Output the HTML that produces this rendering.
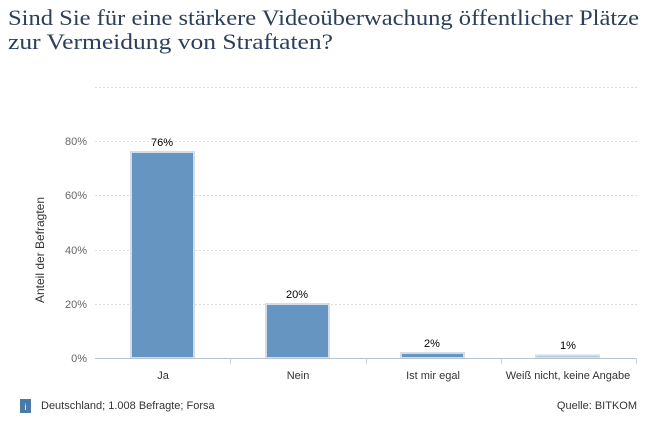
<!DOCTYPE html>
<html><head><meta charset="utf-8"><style>
body{margin:0;background:#fff;width:662px;height:439px;overflow:hidden}
</style></head><body>
<svg width="662" height="439" xmlns="http://www.w3.org/2000/svg" font-family="Liberation Sans, sans-serif">
<text x="8" y="25" font-family="Liberation Serif, serif" font-size="22" fill="#2b3f5c" textLength="631" lengthAdjust="spacingAndGlyphs">Sind Sie für eine stärkere Videoüberwachung öffentlicher Plätze</text>
<text x="8" y="49" font-family="Liberation Serif, serif" font-size="22" fill="#2b3f5c" textLength="325" lengthAdjust="spacingAndGlyphs">zur Vermeidung von Straftaten?</text>
<g stroke="#ddd" stroke-dasharray="2,2" stroke-width="1">
<line x1="95" x2="637" y1="87.5" y2="87.5"/>
<line x1="95" x2="637" y1="141.5" y2="141.5"/>
<line x1="95" x2="637" y1="195.5" y2="195.5"/>
<line x1="95" x2="637" y1="250.5" y2="250.5"/>
<line x1="95" x2="637" y1="304.5" y2="304.5"/>
</g>
<g font-size="11" fill="#666" text-anchor="end">
<text x="87" y="145">80%</text><text x="87" y="199">60%</text><text x="87" y="254">40%</text><text x="87" y="308">20%</text><text x="87" y="362">0%</text>
</g>
<text transform="translate(44,250) rotate(-90)" font-size="12" fill="#333" text-anchor="middle">Anteil der Befragten</text>
<g fill="#6595c0" stroke="#d3dde8" stroke-width="2">
<rect x="131" y="152" width="63" height="206"/>
<rect x="266" y="304" width="63" height="54"/>
<rect x="401" y="353" width="63" height="5"/>
<rect x="536" y="355.5" width="63" height="2.5" fill="#9fbcd8"/>
</g>
<line x1="95" x2="637" y1="358.5" y2="358.5" stroke="#b8c4d0"/>
<g stroke="#ccd" ><line x1="230.5" x2="230.5" y1="358" y2="364"/><line x1="366.5" x2="366.5" y1="358" y2="364"/><line x1="501.5" x2="501.5" y1="358" y2="364"/><line x1="636.5" x2="636.5" y1="358" y2="364"/></g>
<g font-size="11" fill="#000" text-anchor="middle">
<text x="162" y="146">76%</text><text x="297" y="298">20%</text><text x="432" y="347">2%</text><text x="568" y="349">1%</text>
</g>
<g font-size="11" fill="#333" text-anchor="middle">
<text x="163" y="379">Ja</text><text x="298" y="379">Nein</text><text x="433" y="379">Ist mir egal</text><text x="568" y="379">Weiß nicht, keine Angabe</text>
</g>
<rect x="20" y="399" width="11" height="14" fill="#4a7aa8"/>
<text x="25.5" y="410" font-size="9" fill="#fff" text-anchor="middle">i</text>
<text x="41" y="409" font-size="11" fill="#333">Deutschland; 1.008 Befragte; Forsa</text>
<text x="637" y="409" font-size="11" fill="#333" text-anchor="end">Quelle: BITKOM</text>
</svg>
</body></html>
